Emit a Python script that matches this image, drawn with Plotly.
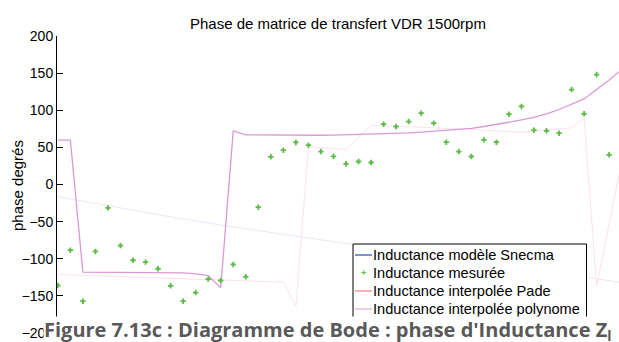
import plotly.graph_objects as go

# Frequency grid (Hz) of the measurement / model evaluation points
freq = [20, 40, 60, 80, 100, 120, 140, 160, 180, 200,
        220, 240, 260, 280, 300, 320, 340, 360, 380, 400,
        420, 440, 460, 480, 500, 520, 540, 560, 580, 600,
        620, 640, 660, 680, 700, 720, 740, 760, 780, 800,
        820, 840, 860, 880, 900, 920]

# Measured inductance phase (degrees), one value per frequency up to 900 Hz
phase_mesuree = [-136.0, -88.5, -157.2, -90.2, -31.4, -82.2, -102.0, -104.6, -113.5, -136.4,
                 -157.2, -145.5, -127.5, -129.3, -107.7, -124.3, -30.6, 37.3, 46.2, 56.6,
                 52.9, 44.4, 38.0, 27.9, 31.0, 29.6, 81.2, 78.1, 84.8, 96.0,
                 82.6, 57.0, 44.4, 37.7, 60.2, 57.0, 94.7, 105.1, 73.1, 72.3,
                 69.1, 127.9, 95.2, 148.1, 40.0]

# Pade interpolation (degrees)
phase_pade = [59.7, 59.7, -118.1, -118.2, -118.3, -118.4, -118.5, -118.6, -118.7, -118.8,
              -119.0, -120.3, -122.6, -139.1, 72.1, 66.9, 66.7, 66.5, 66.3, 66.1,
              66.0, 66.3, 66.5, 66.9, 67.3, 67.9, 68.4, 69.0, 69.6, 70.6,
              71.8, 73.1, 74.6, 75.7, 78.1, 80.8, 83.8, 86.9, 90.5, 95.2,
              101.0, 107.7, 115.2, 127.9, 140.7, 154.9]

# Snecma model (degrees), sampled at a subset of frequencies
freq_snecma = [20, 200, 300, 360, 420, 500, 720, 900, 920]
phase_snecma = [-16.4, -43.6, -57.2, -64.6, -72.5, -81.9, -107.1, -130.0, -132.0]

# Polynomial interpolation (degrees), break points of the polyline
freq_poly = [20, 380, 400, 420, 480, 520, 620, 760, 840, 860, 880, 900, 920]
phase_poly = [-121.2, -131.5, -164.0, 51.0, 47.0, 79.5, 76.4, 70.4, 76.4, 89.6, -137.0, -50.6, 31.2]

legend_names = ["Inductance modèle Snecma", "Inductance mesurée",
                "Inductance interpolée Pade", "Inductance interpolée polynome"]
legend_colors = ["#4a6fc4", "#5cbb47", "#f59a9a", "#e2c0e0"]

y_ticks = [-200, -150, -100, -50, 0, 50, 100, 150, 200]

# plot area in pixels (used to place the boxed legend and caption in paper units)
L, R, T, B, H = 57, 0, 36, 9, 342
W_PLOT, H_PLOT = 619 - L - R, H - T - B


def px(xp):
    return (xp - L) / W_PLOT


def py(yp):
    return (H - B - yp) / H_PLOT


fig = go.Figure()

fig.add_trace(go.Scatter(x=freq_snecma, y=phase_snecma, mode="lines", name=legend_names[0],
                         line=dict(color="#e9e8f6", width=1), hoverinfo="skip"))
fig.add_trace(go.Scatter(x=freq_poly, y=phase_poly, mode="lines", name=legend_names[3],
                         line=dict(color="#fbe2eb", width=1), hoverinfo="skip"))
fig.add_trace(go.Scatter(x=freq, y=phase_pade, mode="lines", name=legend_names[2],
                         line=dict(color="#d99ad4", width=1.3)))
fig.add_trace(go.Scatter(x=freq[:len(phase_mesuree)], y=phase_mesuree, mode="markers",
                         name=legend_names[1],
                         marker=dict(symbol="cross", size=4.5, color=legend_colors[1],
                                     line=dict(width=0))))

# boxed legend
shapes = [dict(type="rect", xref="paper", yref="paper", layer="above",
               x0=px(353), x1=px(586.5), y0=py(324), y1=py(244),
               line=dict(color="black", width=1), fillcolor="white")]
annotations = []
row_y = [255, 273, 291, 309]
for name, color, yy in zip(legend_names, legend_colors, row_y):
    if name == legend_names[1]:
        annotations.append(dict(text="+", xref="paper", yref="paper", x=px(363.5), y=py(yy),
                                xanchor="center", yanchor="middle", showarrow=False,
                                font=dict(size=9, color=color, weight="bold")))
    else:
        shapes.append(dict(type="line", xref="paper", yref="paper", layer="above",
                           x0=px(355), x1=px(372), y0=py(yy), y1=py(yy),
                           line=dict(color=color, width=1.5)))
    annotations.append(dict(text=name, xref="paper", yref="paper", x=px(371), y=py(yy),
                            xanchor="left", yanchor="middle", showarrow=False,
                            font=dict(size=14.6, color="black")))

# vertical axis label
annotations.append(dict(text="phase degrés", xref="paper", yref="paper", x=px(17), y=py(185),
                        xanchor="center", yanchor="middle", textangle=-90, showarrow=False,
                        font=dict(size=15, color="black")))

# caption band across the bottom
annotations.append(dict(
    text="Figure 7.13c : Diagramme de Bode : phase d'Inductance Z<sub>l</sub>",
    xref="paper", yref="paper", x=px(43), y=py(346),
    xanchor="left", yanchor="bottom", showarrow=False, align="left", valign="bottom",
    width=600, height=28, bgcolor="white", borderpad=0,
    font=dict(family="Open Sans, sans-serif", size=20, color="#595959", weight="bold"),
))

fig.update_layout(
    width=619, height=H,
    margin=dict(l=L, r=R, t=T, b=B),
    paper_bgcolor="white", plot_bgcolor="white",
    font=dict(family="Liberation Sans, Arial, sans-serif", size=14, color="black"),
    title=dict(text="Phase de matrice de transfert VDR 1500rpm", x=0.546, xanchor="center",
               y=0.932, yanchor="middle", font=dict(size=15, color="black")),
    showlegend=False,
    xaxis=dict(range=[18.7, 915.7], visible=False),
    yaxis=dict(range=[-200, 200], tickvals=y_ticks, ticks="inside", ticklen=6,
               tickcolor="black", showline=True, linecolor="black", linewidth=1,
               showgrid=False, zeroline=False, tickfont=dict(size=14)),
    shapes=shapes,
    annotations=annotations,
)

fig.write_html("out.html")
